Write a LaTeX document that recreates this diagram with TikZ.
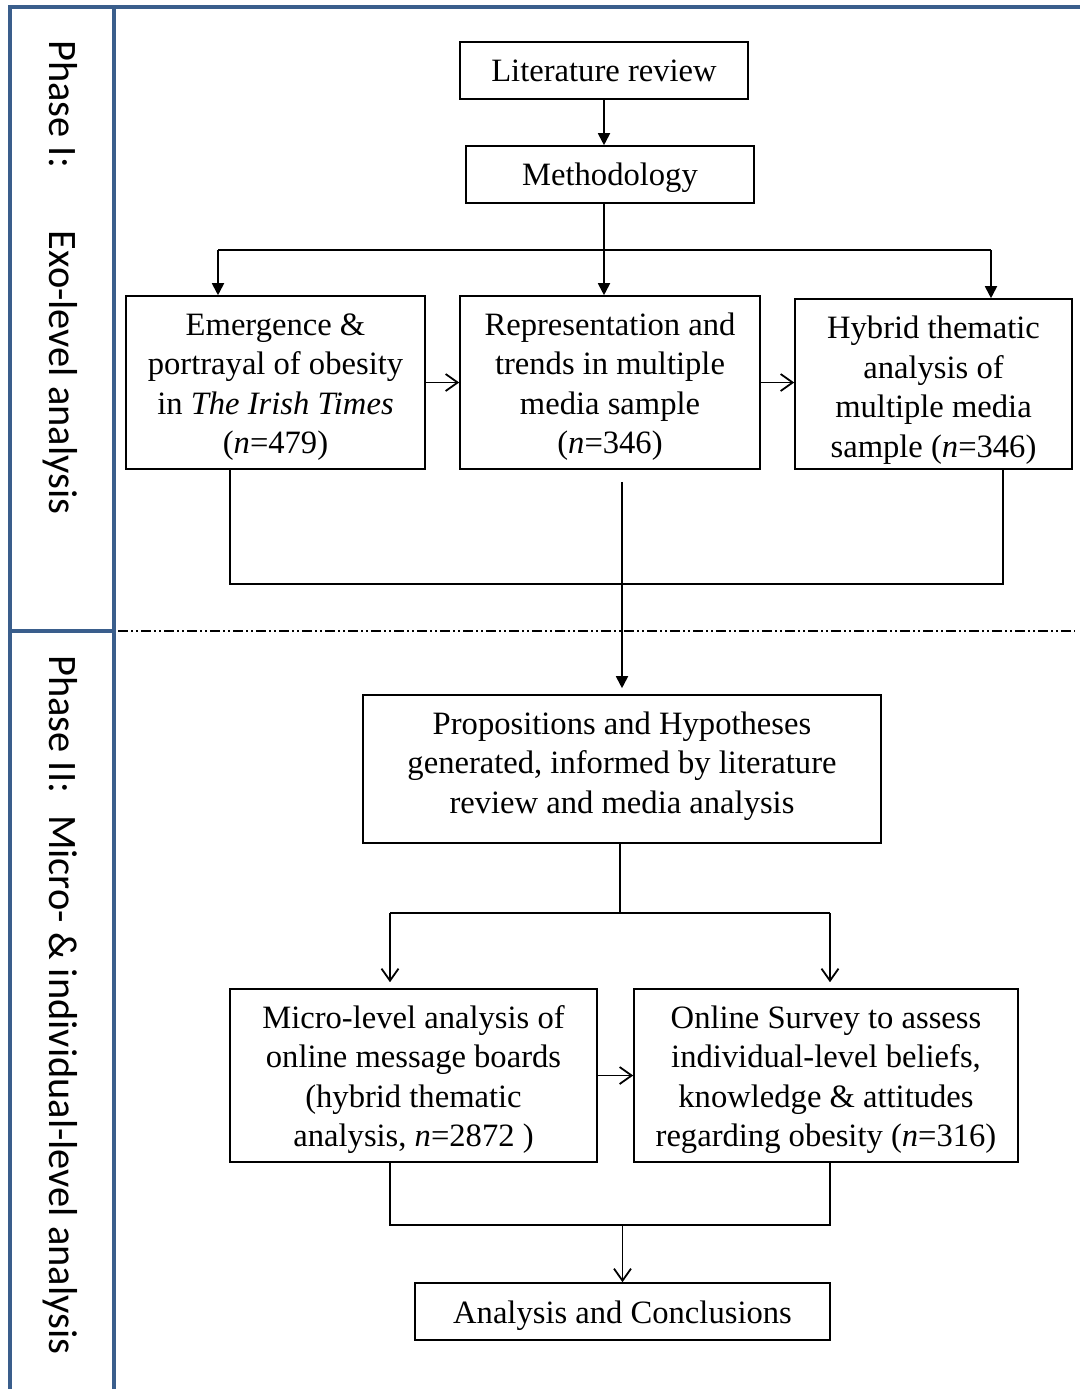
\documentclass[tikz,border=0pt]{standalone}
\usepackage{fontspec}
\setmainfont{Liberation Serif}
\newfontfamily\labelfont{Carlito}
\usetikzlibrary{arrows.meta}

\definecolor{frameblue}{RGB}{58,94,140}

\tikzset{
  stepbox/.style={draw=black, line width=0.8pt, inner sep=0pt},
  steptext/.style={inner sep=0pt, align=center,
    font=\fontsize{16.3}{19.75}\selectfont},
  link/.style={draw=black, line width=0.9pt},
  arrF/.style={link, -{Triangle[length=6pt,width=6pt]}},
  arrO/.style={link, -{Straight Barb[length=6pt,width=8.5pt,line width=0.9pt]}},
  phaselabel/.style={rotate=-90, anchor=west, inner sep=0pt,
    font=\labelfont\fontsize{20.2}{24}\selectfont},
  frame/.style={draw=frameblue, line width=2pt},
}

\begin{document}
\begin{tikzpicture}[x=0.5pt, y=-0.5pt]
\useasboundingbox (0,0) rectangle (1080,1389);

% phase frame
\draw[frame] (1080,7) -- (10,7) -- (10,1389);
\draw[frame] (114,7) -- (114,1389);
\draw[frame] (10,630.5) -- (114,630.5);
\draw[line width=0.8pt, dash pattern=on 5pt off 1.5pt on 1pt off 1.5pt on 1pt off 1.5pt]
  (118,631) -- (1075,631);

% phase labels
\node[phaselabel] (ph1) at (60,40) {Phase I:\hspace{31.5pt}Exo-level analysis};
\node[phaselabel] (ph2) at (60,655) {Phase II:\hspace{11pt}Micro- \& individual-level analysis};

% step boxes
\node[stepbox, minimum width=144pt, minimum height=28.5pt] (lit) at (604,70.5) {};
\node[stepbox, minimum width=144pt, minimum height=28.5pt] (meth) at (610,174.5) {};
\node[stepbox, minimum width=149.5pt, minimum height=86.5pt] (emer) at (275.5,382.5) {};
\node[stepbox, minimum width=150pt, minimum height=86.5pt] (repr) at (610,382.5) {};
\node[stepbox, minimum width=138.5pt, minimum height=85pt] (hyb) at (933.5,384) {};
\node[stepbox, minimum width=259pt, minimum height=74pt] (prop) at (622,769) {};
\node[stepbox, minimum width=183.5pt, minimum height=86.5pt] (micro) at (413.5,1075.5) {};
\node[stepbox, minimum width=192pt, minimum height=86.5pt] (online) at (826,1075.5) {};
\node[stepbox, minimum width=207.5pt, minimum height=28.5pt] (anal) at (622.5,1311.5) {};

% step texts
\node[steptext] (litT) at (lit.center) {Literature review};
\node[steptext] (methT) at ([yshift=-1.5pt]meth.center) {Methodology};
\node[steptext] (emerT) at ([yshift=-2.25pt]emer.center)
  {Emergence \&\\portrayal of obesity\\in \textit{The Irish Times}\\(\textit{n}=479)};
\node[steptext] (reprT) at ([yshift=-2pt]repr.center)
  {Representation and\\trends in multiple\\media sample\\(\textit{n}=346)};
\node[steptext] (hybT) at ([yshift=-3pt]hyb.center)
  {Hybrid thematic\\analysis of\\multiple media\\sample (\textit{n}=346)};
\node[steptext] (propT) at ([yshift=1.5pt]prop.center)
  {Propositions and Hypotheses\\generated, informed by literature\\review and media analysis};
\node[steptext] (microT) at ([yshift=-2pt]micro.center)
  {Micro-level analysis of\\online message boards\\(hybrid thematic\\analysis, \textit{n}=2872 )};
\node[steptext] (onlineT) at ([yshift=-2pt]online.center)
  {Online Survey to assess\\individual-level beliefs,\\knowledge \& attitudes\\regarding obesity (\textit{n}=316)};
\node[steptext] (analT) at ([yshift=-2pt]anal.center) {Analysis and Conclusions};

% helper points for the connectors
\coordinate (split) at (lit.south |- 0,250);
\coordinate (eIn) at ([xshift=-28.75pt]emer.north);
\coordinate (hIn) at ([xshift=28.75pt]hyb.north);
\coordinate (eOut) at ([xshift=-22.75pt]emer.south);
\coordinate (hOut) at ([xshift=34.75pt]hyb.south);
\coordinate (bar1) at (0,584);
\coordinate (midTop) at ([yshift=-6pt]prop.north |- repr.south);
\coordinate (propIn) at ([yshift=3pt]prop.north);
\coordinate (split2) at ([xshift=-1pt]prop.south |- 0,913);
\coordinate (mIn) at ([xshift=-11.75pt,yshift=3pt]micro.north);
\coordinate (oIn) at ([xshift=2pt,yshift=3pt]online.north);
\coordinate (mOut) at ([xshift=-11.75pt]micro.south);
\coordinate (oOut) at ([xshift=2pt]online.south);
\coordinate (bar2) at (anal.north |- 0,1225);

% phase I connectors
\draw[arrF] (lit.south) -- (lit.south |- meth.north);
\draw[arrF] (lit.south |- meth.south) -- (lit.south |- repr.north);
\draw[link] (eIn |- split) -- (hIn |- split);
\draw[arrF] (eIn |- split) -- (eIn);
\draw[arrF] (hIn |- split) -- (hIn);
\draw[arrO] (emer.east) -- (repr.west);
\draw[arrO] (repr.east) -- (repr.east -| hyb.west);
\draw[link] (eOut) -- (eOut |- bar1) -- (hOut |- bar1) -- (hOut);
\draw[arrF] (midTop) -- (propIn);

% phase II connectors
\draw[link] (split2 |- prop.south) -- (split2);
\draw[link] (mIn |- split2) -- (oIn |- split2);
\draw[arrO] (mIn |- split2) -- (mIn);
\draw[arrO] (oIn |- split2) -- (oIn);
\draw[arrO] (micro.east) -- (online.west);
\draw[link] (mOut) -- (mOut |- bar2) -- (oOut |- bar2) -- (oOut);
\draw[arrO] (bar2) -- (anal.north);
\end{tikzpicture}
\end{document}
